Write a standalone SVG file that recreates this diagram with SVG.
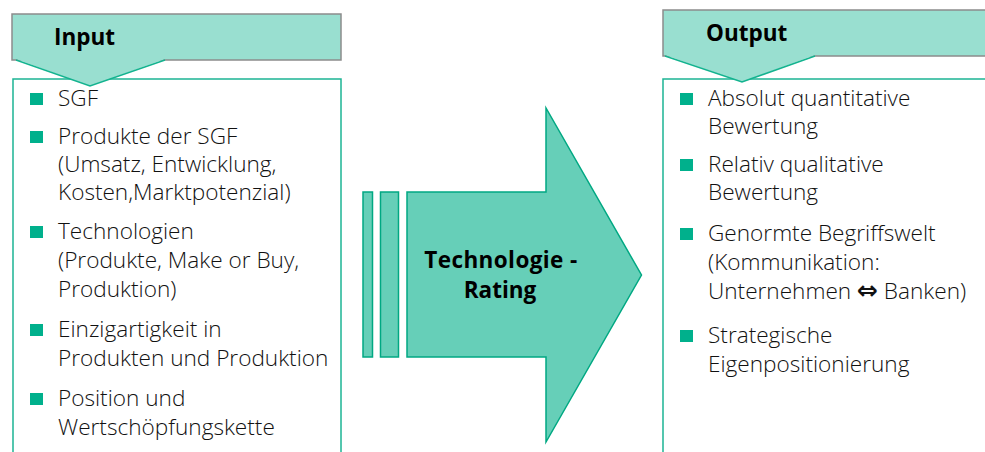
<svg xmlns="http://www.w3.org/2000/svg" width="985" height="452" viewBox="0 0 985 452">
<style>
.box{fill:#ffffff;stroke:#1db494;stroke-width:1.5}
.hdr{fill:#99dfd0;stroke:#8c8c8c;stroke-width:1.5}
.tri{fill:#99dfd0;stroke:none}
.triedge{fill:none;stroke:#13b38f;stroke-width:1.5}
.arrow{fill:#66cfb8;stroke:#00a882;stroke-width:1.5}
.bul{fill:#00b08c}
.t{font-family:"Open Sans","Noto Sans","Liberation Sans",sans-serif;font-size:22.6px;font-weight:300;fill:#111111}
.h{font-family:"Open Sans","Noto Sans","Liberation Sans",sans-serif;font-size:22.5px;font-weight:bold;fill:#000000}
.c{text-anchor:middle}
.sym{font-family:"DejaVu Sans",sans-serif;font-weight:bold;font-size:25px}
</style>
<rect width="985" height="452" fill="#ffffff"/>

<g id="input-box">
  <rect class="box" x="13" y="79" width="328" height="390"/>
  <rect class="hdr" x="12" y="14" width="329" height="46"/>
  <polygon class="tri" points="16,59 90,86 165,59"/>
  <polyline class="triedge" points="16,60 90,86 165,60"/>
  <text class="h" x="54" y="45">Input</text>
  <g class="bullets">
    <rect class="bul" x="30" y="93" width="13" height="12"/>
    <rect class="bul" x="30" y="131" width="13" height="12"/>
    <rect class="bul" x="30" y="226" width="13" height="12"/>
    <rect class="bul" x="30" y="324" width="13" height="12"/>
    <rect class="bul" x="30" y="393" width="13" height="12"/>
  </g>
  <text class="t" x="58" y="106">SGF</text>
  <text class="t" x="58" y="144">Produkte der SGF</text>
  <text class="t" x="58" y="172">(Umsatz, Entwicklung,</text>
  <text class="t" x="58" y="200">Kosten,Marktpotenzial)</text>
  <text class="t" x="58" y="239">Technologien</text>
  <text class="t" x="58" y="268">(Produkte, Make or Buy,</text>
  <text class="t" x="58" y="297">Produktion)</text>
  <text class="t" x="58" y="337">Einzigartigkeit in</text>
  <text class="t" x="58" y="366">Produkten und Produktion</text>
  <text class="t" x="58" y="406">Position und</text>
  <text class="t" x="58" y="435">Wertschöpfungskette</text>
</g>

<g id="rating-arrow">
  <rect class="arrow" x="363" y="192" width="9.5" height="165"/>
  <rect class="arrow" x="380.5" y="192" width="18" height="165"/>
  <polygon class="arrow" points="407,192 546,192 546,108 641.5,275 546,442 546,357 407,357"/>
  <text class="h c" x="501" y="268" letter-spacing="0.4">Technologie -</text>
  <text class="h c" x="500" y="298">Rating</text>
</g>

<g id="output-box">
  <rect class="box" x="663" y="79" width="340" height="390"/>
  <rect class="hdr" x="663" y="10" width="340" height="46"/>
  <polygon class="tri" points="665,55 742,82 815,55"/>
  <polyline class="triedge" points="665,56 742,82 815,56"/>
  <text class="h" x="706" y="41">Output</text>
  <g class="bullets">
    <rect class="bul" x="680" y="93" width="13" height="12"/>
    <rect class="bul" x="680" y="159" width="13" height="12"/>
    <rect class="bul" x="680" y="228" width="13" height="12"/>
    <rect class="bul" x="680" y="330" width="13" height="12"/>
  </g>
  <text class="t" x="708" y="106">Absolut quantitative</text>
  <text class="t" x="708" y="134">Bewertung</text>
  <text class="t" x="708" y="172">Relativ qualitative</text>
  <text class="t" x="708" y="200">Bewertung</text>
  <text class="t" x="708" y="241">Genormte Begriffswelt</text>
  <text class="t" x="708" y="270">(Kommunikation:</text>
  <text class="t" x="708" y="299">Unternehmen <tspan class="sym">⇔</tspan> Banken)</text>
  <text class="t" x="708" y="343">Strategische</text>
  <text class="t" x="708" y="372">Eigenpositionierung</text>
</g>
</svg>
